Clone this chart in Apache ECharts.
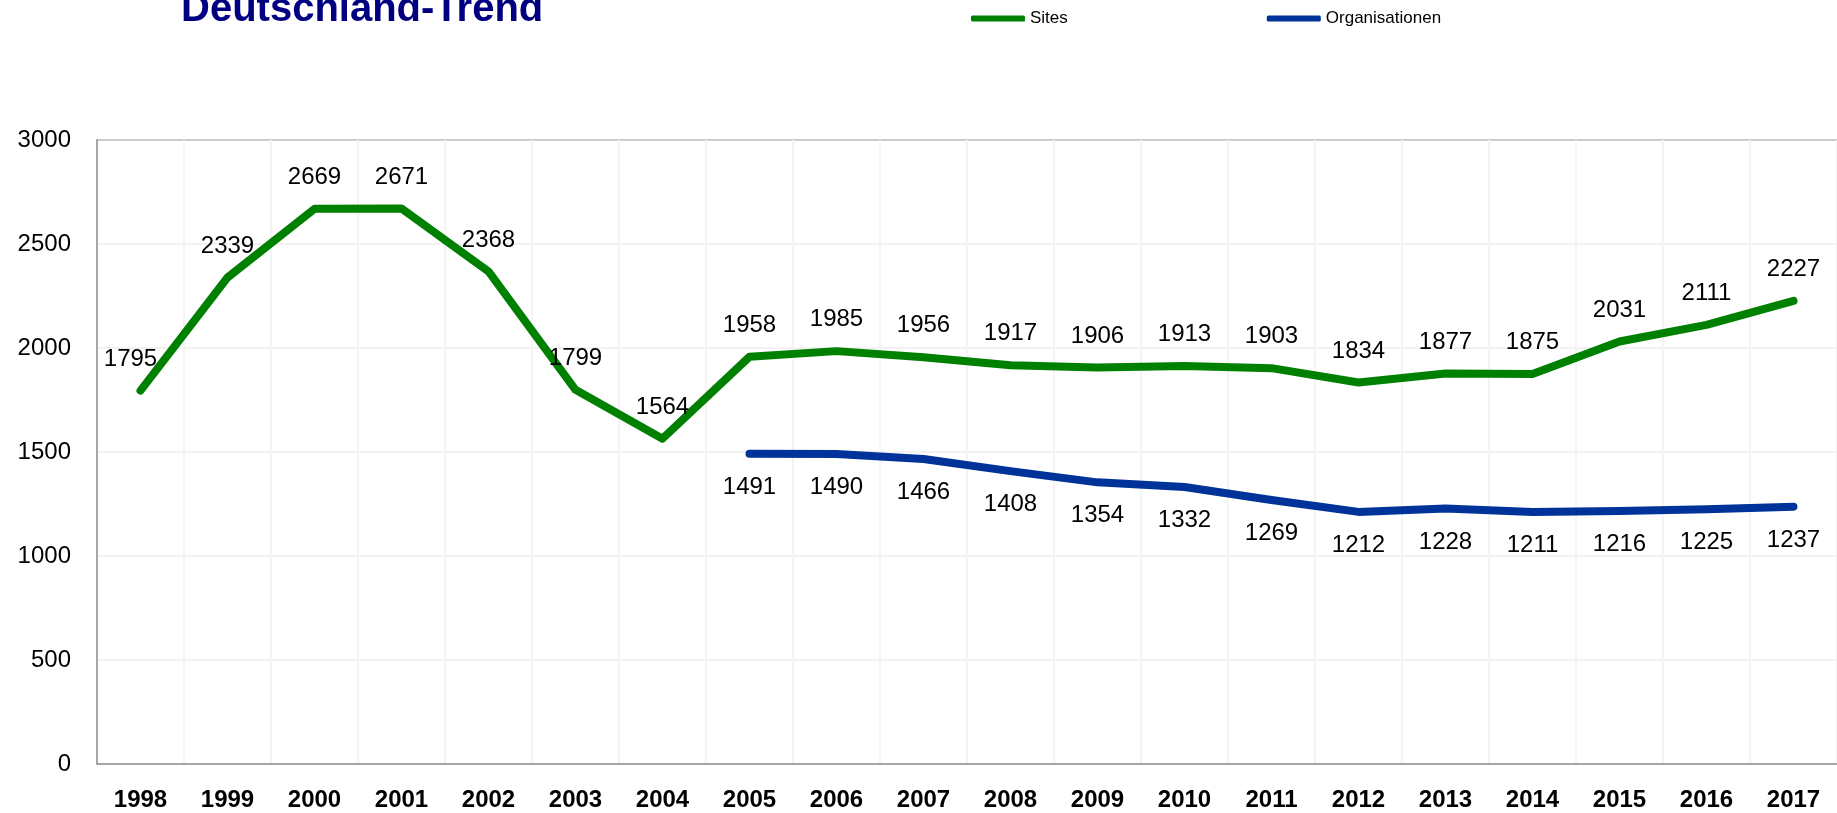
<!DOCTYPE html>
<html>
<head>
<meta charset="utf-8">
<title>Deutschland-Trend</title>
<script src="https://cdn.jsdelivr.net/npm/echarts@6/dist/echarts.min.js"></script>
<style>
	html, body { margin: 0; padding: 0; background: #fff; }
	#chart { width: 1837px; height: 813px; }
</style>
</head>
<body>
<div id="chart"></div>
<script>
	// Jahre
	var years = ['1998', '1999', '2000', '2001', '2002', '2003', '2004', '2005', '2006', '2007',
		'2008', '2009', '2010', '2011', '2012', '2013', '2014', '2015', '2016', '2017'];
	// Sites
	var sites = [1795, 2339, 2669, 2671, 2368, 1799, 1564, 1958, 1985, 1956,
		1917, 1906, 1913, 1903, 1834, 1877, 1875, 2031, 2111, 2227];
	// Organisationen (erst ab 2005)
	var orgs = ['-', '-', '-', '-', '-', '-', '-', 1491, 1490, 1466,
		1408, 1354, 1332, 1269, 1212, 1228, 1211, 1216, 1225, 1237];
	var yTicks = [0, 500, 1000, 1500, 2000, 2500, 3000];

	var font = 'Liberation Sans';
	var myChart = echarts.init(document.getElementById('chart'));

	// erster Punkt: Label etwas nach links
	var sitesData = sites.map(function (v, i) {
		if (i === 0) {
			return { value: v, label: { offset: [-10, 0] } };
		}
		return v;
	});

	var option = {
		animation: false,
		// Titel, oben angeschnitten wie im Original
		graphic: [{
			type: 'text',
			left: 181,
			top: -10,
			style: {
				text: 'Deutschland-Trend',
				fontFamily: font,
				fontSize: 40,
				fontWeight: 'bold',
				fill: '#000080'
			}
		}],
		legend: {
			left: 966,
			top: 5,
			itemWidth: 54,
			itemHeight: 6,
			itemGap: 199,
			icon: 'roundRect',
			textStyle: {
				fontFamily: font,
				fontSize: 17,
				color: '#000'
			},
			data: ['Sites', 'Organisationen']
		},
		grid: {
			left: 97,
			right: 0,
			top: 140,
			bottom: 49
		},
		xAxis: {
			type: 'category',
			data: years,
			boundaryGap: true,
			axisLine: { lineStyle: { color: '#a6a6a6', width: 2 } },
			axisTick: { show: false },
			axisLabel: {
				interval: 0,
				margin: 24,
				fontFamily: font,
				fontSize: 24,
				fontWeight: 'bold',
				color: '#000'
			},
			splitLine: {
				show: true,
				interval: 0,
				lineStyle: { color: '#f4f4f4', width: 2 }
			}
		},
		yAxis: {
			type: 'value',
			min: yTicks[0],
			max: yTicks[yTicks.length - 1],
			interval: 500,
			axisLine: { show: true, lineStyle: { color: '#a6a6a6', width: 2 } },
			axisTick: { show: false },
			axisLabel: {
				margin: 26,
				fontFamily: font,
				fontSize: 24,
				color: '#000',
				formatter: function (v) { return String(v); }
			},
			splitLine: {
				lineStyle: {
					color: ['#f2f2f2', '#f2f2f2', '#f2f2f2', '#f2f2f2', '#f2f2f2', '#f2f2f2', '#cccccc'],
					width: 2
				}
			}
		},
		series: [
			{
				name: 'Sites',
				type: 'line',
				data: sitesData,
				symbol: 'circle',
				symbolSize: 1,
				showSymbol: true,
				color: '#008000',
				itemStyle: { color: '#008000' },
				lineStyle: { width: 8, cap: 'round', join: 'round', color: '#008000' },
				label: {
					show: true,
					position: 'top',
					distance: 19,
					fontFamily: font,
					fontSize: 24,
					color: '#000'
				}
			},
			{
				name: 'Organisationen',
				type: 'line',
				data: orgs,
				symbol: 'circle',
				symbolSize: 1,
				showSymbol: true,
				color: '#003399',
				itemStyle: { color: '#003399' },
				lineStyle: { width: 8, cap: 'round', join: 'round', color: '#003399' },
				label: {
					show: true,
					position: 'bottom',
					distance: 21,
					fontFamily: font,
					fontSize: 24,
					color: '#000'
				}
			}
		]
	};
	myChart.setOption(option);
</script>
</body>
</html>
